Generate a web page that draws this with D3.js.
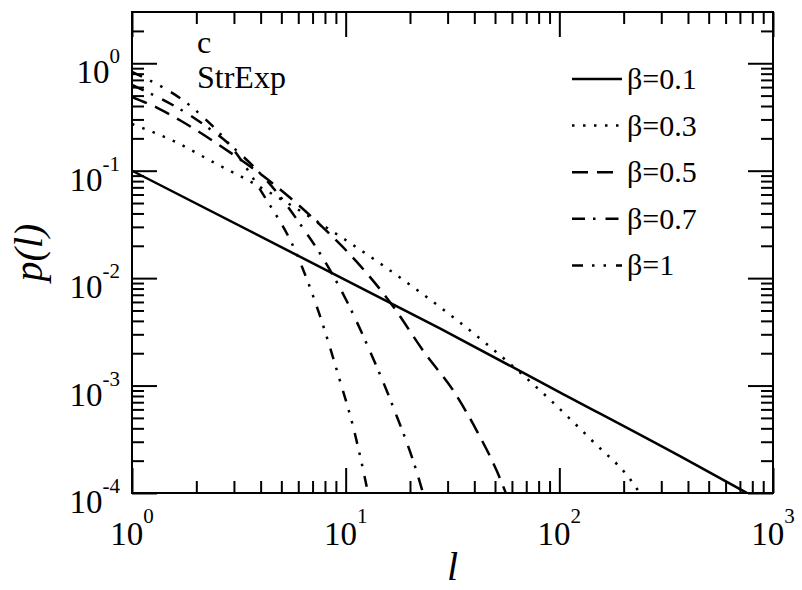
<!DOCTYPE html>
<html>
<head>
<meta charset="utf-8">
<script src="https://cdn.jsdelivr.net/npm/d3@7"></script>
<style>
  html, body { margin: 0; padding: 0; background: #fff; }
  svg { display: block; }
</style>
</head>
<body>
<svg id="chart" width="802" height="590"></svg>
<script>
// Distribution p(l) of a stretched-exponential model for several exponents beta.
const betaLabels = ["β=0.1", "β=0.3", "β=0.5", "β=0.7", "β=1"];

// [l, p(l)] samples for each beta
const curveB01 = [[1, 0.1], [5.7, 0.017], [27.6, 0.0034], [100, 8.7e-4], [367, 2.2e-4], [755, 1.0e-4]];
const curveB03 = [[1, 0.272], [1.59, 0.186], [2.42, 0.119], [3.38, 0.0843], [9.71, 0.0235], [22.3, 0.0074],
                  [47.3, 0.0023], [90.4, 7.4e-4], [144, 3.0e-4], [214, 1.35e-4], [238, 1.0e-4]];
const curveB05 = [[1, 0.484], [1.32, 0.383], [1.70, 0.290], [2.55, 0.174], [4.57, 0.0758], [8.0, 0.0284],
                  [11.3, 0.0141], [16.1, 0.0060], [23.5, 0.0020], [32.1, 8.8e-4], [41.2, 3.75e-4],
                  [51, 1.6e-4], [56.2, 1.0e-4]];
const curveB07 = [[1, 0.63], [2, 0.30], [3, 0.162], [4.98, 0.0562], [6.18, 0.031], [7.58, 0.0170],
                  [10.0, 0.0064], [12.85, 0.0022], [16.8, 6.1e-4], [21.6, 1.53e-4], [23, 1.0e-4]];
const curveB1  = [[1, 0.83], [2, 0.36], [3, 0.155], [4.06, 0.0625], [5.85, 0.0174], [7.5, 0.00474],
                  [9.4, 0.00111], [10.8, 4.26e-4], [12.05, 1.67e-4], [12.72, 1.0e-4]];

const xDomain = [1, 1000];
const yDomain = [1e-4, 3];
const xMajor = [1, 10, 100, 1000];
const yMajor = [1e-4, 1e-3, 1e-2, 1e-1, 1];
const xExponents = ["0", "1", "2", "3"];
const yExponents = ["-4", "-3", "-2", "-1", "0"];
const panelText = ["c", "StrExp"];
const titleY = "p(l)";
const titleX = "l";

const allCurves = [curveB01, curveB03, curveB05, curveB07, curveB1];
// line patterns: solid, dotted, dashed, dash-dot, dash-dot-dot
const dashes = [null, "2.5,8.5", "16,9", "13,8,2.5,10", "11,9,2.5,9,2.5,10"];

const SERIF = "'Liberation Serif', 'DejaVu Serif', 'Noto Serif', 'FreeSerif', 'Nimbus Roman', 'Nimbus Roman No9 L', 'Tinos', 'Times New Roman', Times, serif";

const svg = d3.select("#chart");
const L = 132, R = 773, T = 12, B = 493;

const x = d3.scaleLog().domain(xDomain).range([L, R]);
const y = d3.scaleLog().domain(yDomain).range([B, T]);

// minor tick values (2..9 times each power of ten inside the domain)
function minors(dom) {
  const out = [];
  for (let e = Math.floor(Math.log10(dom[0])); e <= Math.ceil(Math.log10(dom[1])); e++) {
    for (let k = 2; k <= 9; k++) {
      const v = k * Math.pow(10, e);
      if (v > dom[0] && v < dom[1]) out.push(v);
    }
  }
  return out;
}
const xMinor = minors(xDomain);
const yMinor = minors(yDomain);

const MAJ = 25, MIN = 12;
function tickAxis(axisFn, scale, values, size, tr) {
  const g = svg.append("g").attr("transform", tr)
    .call(axisFn(scale).tickValues(values).tickSize(size).tickFormat(""));
  g.select(".domain").remove();
  g.selectAll(".tick line").attr("stroke", "#000").attr("stroke-width", 2);
  g.selectAll("text").remove();
}
// inward ticks on all four sides
tickAxis(d3.axisBottom, x, xMajor, -MAJ, `translate(0,${B})`);
tickAxis(d3.axisBottom, x, xMinor, -MIN, `translate(0,${B})`);
tickAxis(d3.axisTop, x, xMajor, -MAJ, `translate(0,${T})`);
tickAxis(d3.axisTop, x, xMinor, -MIN, `translate(0,${T})`);
tickAxis(d3.axisLeft, y, yMajor, -MAJ, `translate(${L},0)`);
tickAxis(d3.axisLeft, y, yMinor, -MIN, `translate(${L},0)`);
tickAxis(d3.axisRight, y, yMajor, -MAJ, `translate(${R},0)`);
tickAxis(d3.axisRight, y, yMinor, -MIN, `translate(${R},0)`);

// frame
svg.append("rect").attr("x", L).attr("y", T).attr("width", R - L).attr("height", B - T)
  .attr("fill", "none").attr("stroke", "#000").attr("stroke-width", 2);

function txt(xp, yp, size) {
  return svg.append("text").attr("x", xp).attr("y", yp)
    .attr("font-family", SERIF).attr("font-size", size).attr("fill", "#000");
}

// tick labels: 10 with superscript exponent
xMajor.forEach((v, i) => {
  const t = txt(x(v), 545, 33).attr("text-anchor", "middle");
  t.append("tspan").text("10");
  t.append("tspan").attr("dy", -22).attr("font-size", 21).text(xExponents[i]);
});
yMajor.forEach((v, i) => {
  const t = txt(120, y(v) + 20, 33).attr("text-anchor", "end");
  t.append("tspan").text("10");
  t.append("tspan").attr("dy", -20).attr("font-size", 21).text(yExponents[i]);
});

// axis titles
svg.append("text").attr("transform", `translate(42,${(T + B) / 2}) rotate(-90)`)
  .attr("font-family", SERIF).attr("text-anchor", "middle").attr("font-size", 40)
  .attr("font-style", "italic").text(titleY);
txt((L + R) / 2, 580, 40).attr("text-anchor", "middle").attr("font-style", "italic").text(titleX);

// panel annotation
txt(197, 53, 32).text(panelText[0]);
txt(197, 88, 32).text(panelText[1]);

// curves
svg.append("clipPath").attr("id", "plotclip").append("rect")
  .attr("x", L).attr("y", T).attr("width", R - L).attr("height", B - T);
const line = d3.line().x(d => x(d[0])).y(d => y(d[1])).curve(d3.curveMonotoneX);
const plot = svg.append("g").attr("clip-path", "url(#plotclip)");
allCurves.forEach((c, i) => {
  plot.append("path").attr("d", line(c)).attr("fill", "none")
    .attr("stroke", "#000").attr("stroke-width", 2.5)
    .attr("stroke-dasharray", dashes[i]);
});

// legend
const legY0 = 79, legStep = 46.6;
betaLabels.forEach((lab, i) => {
  const yy = legY0 + i * legStep;
  svg.append("line").attr("x1", 572).attr("x2", 622).attr("y1", yy).attr("y2", yy)
    .attr("stroke", "#000").attr("stroke-width", 2.5).attr("stroke-dasharray", dashes[i]);
  txt(627, yy + 10, 30).text(lab);
});
</script>
</body>
</html>
